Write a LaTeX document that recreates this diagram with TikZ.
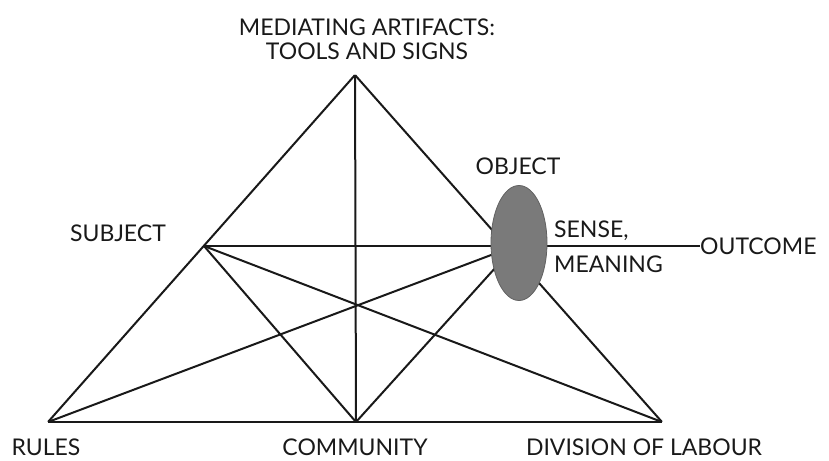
\documentclass[tikz,border=0pt]{standalone}
\usepackage{fontspec}
\setmainfont{Lato}
\usetikzlibrary{arrows,positioning,shapes.geometric}
\tikzset{
    %Define style for corner points
    punkt/.style={
           circle,
           inner sep=0pt,
           minimum size=0pt},
    %Define style for labels
    lbl/.style={
           inner sep=0pt,
           font=\fontsize{23}{24}\selectfont,
           align=center,
           text=black!90},
    %Define style for the object
    objekt/.style={
           ellipse,
           draw=black!62, thick,
           fill=black!52!white,
           minimum width=56pt,
           minimum height=115pt},
    % Define line style
    pil/.style={
           line width=2pt,
           black!90}
}
\begin{document}
\begin{tikzpicture}[x=1pt,y=-1pt]
\useasboundingbox (0,0) rectangle (829,460);
\node[punkt](tools) at (355,75) {};
\node[punkt](subj) at (204,246) {};
\node[punkt](obj) at (515,246) {};
\node[punkt](rules) at (48,422) {};
\node[punkt](comm) at (356,422) {};
\node[punkt](div) at (662,422) {};
\coordinate (out) at (700,246);
 \path[pil]
   (tools) edge (rules) edge (div) edge (comm)
   (rules) edge (div) edge (obj)
   (subj) edge (obj) edge (comm) edge (div)
   (comm) edge (obj)
   (obj) edge (out);
\node[objekt] (objshape) at (519,243) {};
% labels
\node[lbl] at (367,27) {MEDIATING ARTIFACTS:};
\node[lbl] at (367,51) {TOOLS AND SIGNS};
\node[lbl, anchor=east] at (166,233) {SUBJECT};
\node[lbl] at (518,166) {OBJECT};
\node[lbl, anchor=west] at (554,231) {SENSE,};
\node[lbl, anchor=west] at (554,264) {MEANING};
\node[lbl, anchor=west] at (700,246) {OUTCOME};
\node[lbl] at (46,447) {RULES};
\node[lbl] at (355,447) {COMMUNITY};
\node[lbl] at (644,447) {DIVISION OF LABOUR};
\end{tikzpicture}
\end{document}
